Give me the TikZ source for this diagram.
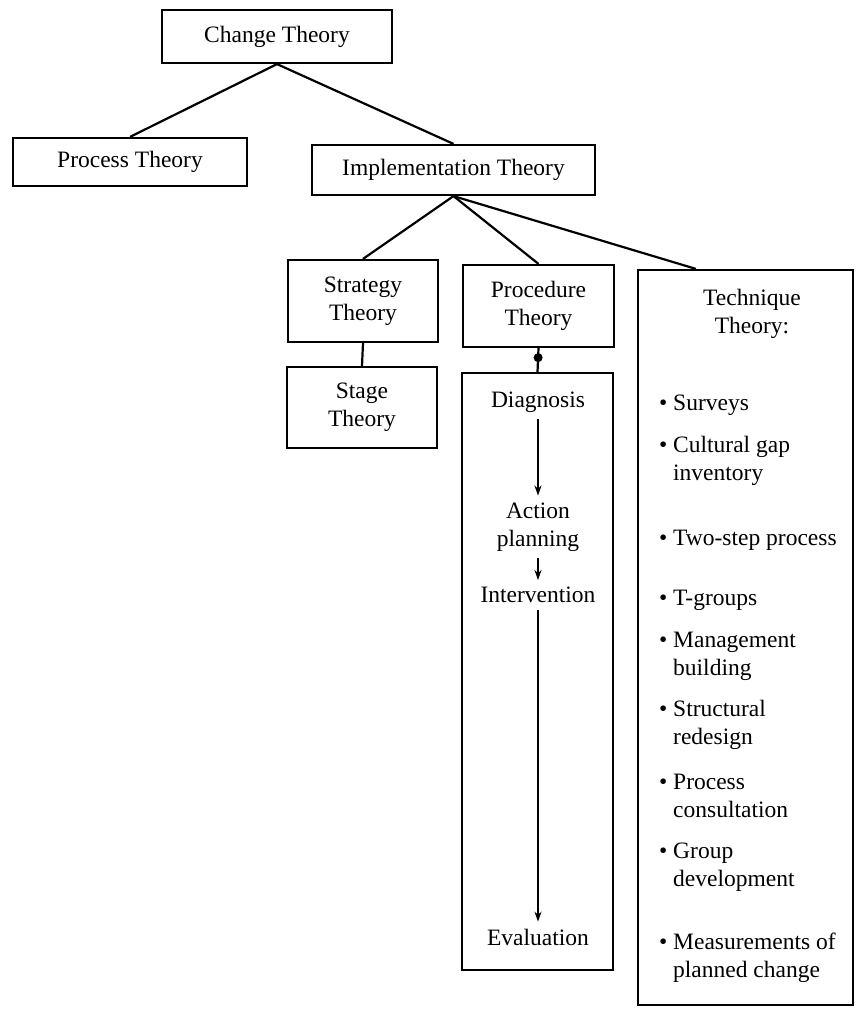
\documentclass[tikz,border=0pt]{standalone}
\usepackage{fontspec}
\setmainfont{Liberation Serif}
\usetikzlibrary{arrows.meta}

\begin{document}
\begin{tikzpicture}[
x=0.5pt, y=-0.5pt,
line width=1.1pt,
every node/.style={
    font=\fontsize{11.75}{14}\selectfont,
    align=center,
    inner sep=0pt
},
theorybox/.style={
    draw,
    fill=white
},
item/.style={
    anchor=west,
    align=left
},
flow/.style={
    -{Stealth[length=5pt,width=3.5pt]},
    line width=0.9pt,
    shorten <=3pt,
    shorten >=3pt
}
]
\useasboundingbox (0,0) rectangle (857,1012);

\node[theorybox, minimum width=115pt, minimum height=26.5pt] (change) at (277,36.5) {Change Theory};
\node[theorybox, minimum width=117pt, minimum height=24pt] (process) at (130,162) {Process Theory};
\node[theorybox, minimum width=141.5pt, minimum height=25pt] (impl) at (453.5,170) {Implementation Theory};
\node[theorybox, minimum width=75pt, minimum height=41pt] (strategy) at (363,301) {Strategy\\Theory};
\node[theorybox, minimum width=75.5pt, minimum height=41pt] (proctheory) at (538.5,306) {Procedure\\Theory};
\node[theorybox, minimum width=75pt, minimum height=40.5pt] (stage) at (362,407.5) {Stage\\Theory};
\node[theorybox, minimum width=75.5pt, minimum height=298.5pt] (proclist) at (537.5,671.5) {};
\node[theorybox, minimum width=107.5pt, minimum height=367.5pt] (tech) at (745.5,637.5) {};

\draw (change.south) -- (process.north);
\draw (change.south) -- (impl.north);
\draw (impl.south) -- (strategy.north);
\draw (impl.south) -- (proctheory.north);
\draw (impl.south) -- ([xshift=29.5pt]tech.north west);
\draw (strategy.south) -- (stage.north);
\draw (proctheory.south) -- (proclist.north)
    node[pos=0.4, circle, fill, inner sep=1.6pt] {};

% procedure steps
\node (diag) at (538,402) {Diagnosis};
\node (action) at (538,527) {Action\\planning};
\node (interv) at (538,595) {Intervention};
\node (eval) at (538,937) {Evaluation};
\draw[flow] (diag) -- (action);
\draw[flow] (action) -- (interv);
\draw[flow] (interv) -- (eval);

% techniques
\node (techtitle) at (752,314) {Technique\\Theory:};
\node[item] (surveys) at (658,405) {\textbullet\ Surveys};
\node[item] (gap) at (658,461) {\textbullet\ Cultural gap\\\phantom{\textbullet\ }inventory};
\node[item] (twostep) at (658,540) {\textbullet\ Two-step process};
\node[item] (tgroups) at (658,600) {\textbullet\ T-groups};
\node[item] (mgmt) at (658,656) {\textbullet\ Management\\\phantom{\textbullet\ }building};
\node[item] (struct) at (658,725) {\textbullet\ Structural\\\phantom{\textbullet\ }redesign};
\node[item] (consult) at (658,796) {\textbullet\ Process\\\phantom{\textbullet\ }consultation};
\node[item] (group) at (658,867) {\textbullet\ Group\\\phantom{\textbullet\ }development};
\node[item] (measure) at (658,958) {\textbullet\ Measurements of\\\phantom{\textbullet\ }planned change};
\end{tikzpicture}
\end{document}
